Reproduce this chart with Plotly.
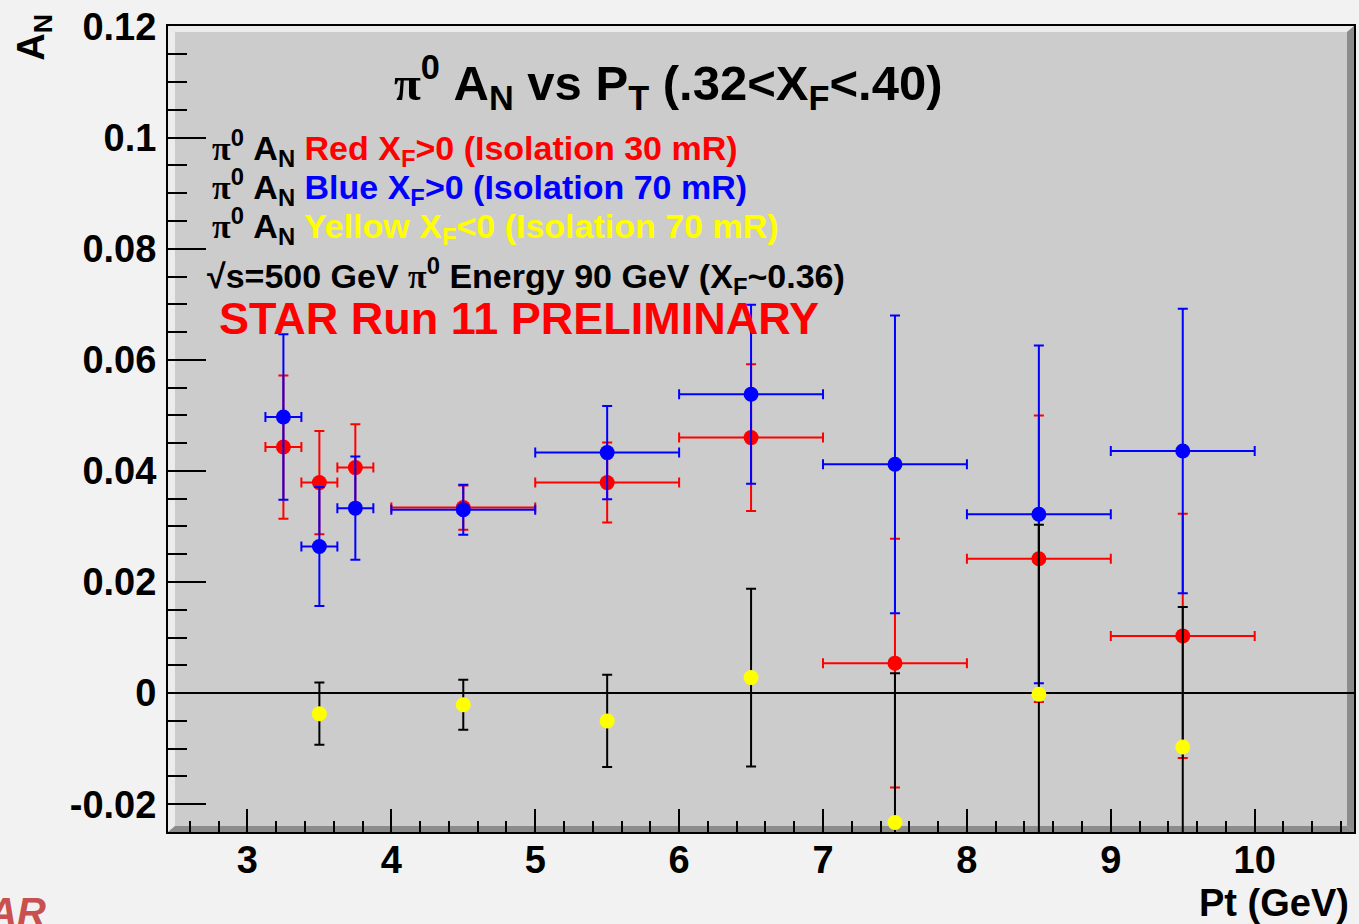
import plotly.graph_objects as go

# Transverse single-spin asymmetry A_N of pi0 vs Pt, three beam/isolation selections
pt_bins = [3.25, 3.5, 3.75, 4.5, 5.5, 6.5, 7.5, 8.5, 9.5]
pt_halfwidth = [0.125, 0.125, 0.125, 0.5, 0.5, 0.5, 0.5, 0.5, 0.5]

red_an = [0.0443, 0.0379, 0.0406, 0.0334, 0.0379, 0.0460, 0.0054, 0.0242, 0.0103]
red_err = [0.0129, 0.0093, 0.0078, 0.0040, 0.0072, 0.0132, 0.0224, 0.0258, 0.0220]

blue_an = [0.0497, 0.0264, 0.0333, 0.0330, 0.0433, 0.0538, 0.0412, 0.0322, 0.0436]
blue_err = [0.0149, 0.0107, 0.0093, 0.0045, 0.0084, 0.0161, 0.0268, 0.0304, 0.0256]

yellow_pt = [3.5, 4.5, 5.5, 6.5, 7.5, 8.5, 9.5]
yellow_an = [-0.0037, -0.0021, -0.0050, 0.0028, -0.0233, -0.0002, -0.0097]
yellow_err = [0.0056, 0.0045, 0.0083, 0.0160, 0.0269, 0.0305, 0.0252]

x_tick_vals = [3, 4, 5, 6, 7, 8, 9, 10]
x_tick_text = ["3", "4", "5", "6", "7", "8", "9", "10"]
y_tick_vals = [-0.02, 0, 0.02, 0.04, 0.06, 0.08, 0.1, 0.12]
y_tick_text = ["-0.02", "0", "0.02", "0.04", "0.06", "0.08", "0.1", "0.12"]

W, H = 1359, 924
L, R, T, B = 168, 3, 26, 92
PW, PH = W - L - R, H - T - B

FONT = "Liberation Sans, Arial, sans-serif"


def px_x(px):
    return (px - L) / PW


def px_y(py):
    return (H - B - py) / PH


fig = go.Figure()


def add_series(x, y, ey, color, err_color, ex=None):
    fig.add_trace(go.Scatter(
        x=x, y=y, mode="markers",
        marker=dict(color=color, size=15, line=dict(width=0)),
        error_y=dict(type="data", array=ey, color=err_color, thickness=2, width=5),
        error_x=(dict(type="data", array=ex, color=err_color, thickness=2, width=5)
                 if ex is not None else dict(visible=False)),
        showlegend=False, hoverinfo="skip",
    ))


add_series(pt_bins, red_an, red_err, "#ff0000", "#ff0000", pt_halfwidth)
add_series(pt_bins, blue_an, blue_err, "#0000ff", "#0000ff", pt_halfwidth)
add_series(yellow_pt, yellow_an, yellow_err, "#ffff00", "#000000")

# bevelled frame edges
dx, dy = 7 / PW, 6 / PH
light, dark = "#ececec", "#8c8c8c"
bevels = [
    (f"M 0,1 L 1,1 L {1-dx},{1-dy} L {dx},{1-dy} Z", light),
    (f"M 0,0 L 0,1 L {dx},{1-dy} L {dx},{dy} Z", light),
    (f"M 1,1 L 1,0 L {1-dx},{dy} L {1-dx},{1-dy} Z", dark),
    (f"M 0,0 L 1,0 L {1-dx},{dy} L {dx},{dy} Z", dark),
]
shapes = [dict(type="path", path=p, xref="paper", yref="paper",
               fillcolor=c, line=dict(width=0), layer="below") for p, c in bevels]

PI = "<span style='font-family:Liberation Serif'>π</span>"
ann = []


def text(s, x, y, size, color="black", xanchor="left", yanchor="middle", **kw):
    ann.append(dict(text=s, x=x, y=y, xref="paper", yref="paper",
                    xanchor=xanchor, yanchor=yanchor, showarrow=False,
                    font=dict(family=FONT, size=size, color=color, weight="bold"), **kw))


text(f"{PI}<sup>0</sup> A<sub>N</sub> vs P<sub>T</sub> (.32&lt;X<sub>F</sub>&lt;.40)",
     px_x(392), px_y(83), 49)
text(f"{PI}<sup>0</sup> A<sub>N</sub> <span style='color:#ff0000'>Red X<sub>F</sub>&gt;0 (Isolation 30 mR)</span>",
     px_x(210), px_y(148), 34)
text(f"{PI}<sup>0</sup> A<sub>N</sub> <span style='color:#0000ff'>Blue X<sub>F</sub>&gt;0 (Isolation 70 mR)</span>",
     px_x(210), px_y(187), 34)
text(f"{PI}<sup>0</sup> A<sub>N</sub> <span style='color:#ffff00'>Yellow X<sub>F</sub>&lt;0 (Isolation 70 mR)</span>",
     px_x(210), px_y(226), 34)
text(f"√s=500 GeV {PI}<sup>0</sup> Energy 90 GeV (X<sub>F</sub>~0.36)",
     px_x(205), px_y(276), 34)
text("STAR Run 11 PRELIMINARY", px_x(217), px_y(318), 45, color="#ff0000")
text("Pt (GeV)", px_x(1353), px_y(903), 38, xanchor="right")
text("A<sub>N</sub>", px_x(34), px_y(12), 38, xanchor="center", yanchor="top", textangle=-90)
ann.append(dict(text="STAR", x=px_x(48), y=px_y(888), xref="paper", yref="paper",
                xanchor="right", yanchor="top", showarrow=False,
                font=dict(family=FONT, size=40, color="#c8504f", weight="bold", style="italic")))

fig.update_layout(
    width=W, height=H,
    margin=dict(l=L, r=R, t=T, b=B, pad=0),
    paper_bgcolor="#f2f2f2", plot_bgcolor="#cccccc",
    shapes=shapes, annotations=ann, hovermode=False,
    xaxis=dict(
        range=[2.448, 10.69], showgrid=False, zeroline=False,
        tickmode="array", tickvals=x_tick_vals, ticktext=x_tick_text,
        ticks="inside", ticklen=23, tickwidth=2, tickcolor="black",
        minor=dict(dtick=0.2, tick0=0, ticks="inside", ticklen=11, tickwidth=2, tickcolor="black"),
        showline=True, linecolor="black", linewidth=2, mirror=True,
        tickfont=dict(family=FONT, size=38, color="black", weight="bold"),
        ticklabelstandoff=-7,
    ),
    yaxis=dict(
        range=[-0.025, 0.1201], showgrid=False,
        zeroline=True, zerolinecolor="black", zerolinewidth=2,
        tickmode="array", tickvals=y_tick_vals, ticktext=y_tick_text,
        ticks="inside", ticklen=38, tickwidth=2, tickcolor="black",
        minor=dict(dtick=0.005, tick0=0, ticks="inside", ticklen=19, tickwidth=2, tickcolor="black"),
        showline=True, linecolor="black", linewidth=2, mirror=True,
        tickfont=dict(family=FONT, size=38, color="black", weight="bold"),
        ticklabelstandoff=2,
    ),
)

fig.write_html("out.html")
